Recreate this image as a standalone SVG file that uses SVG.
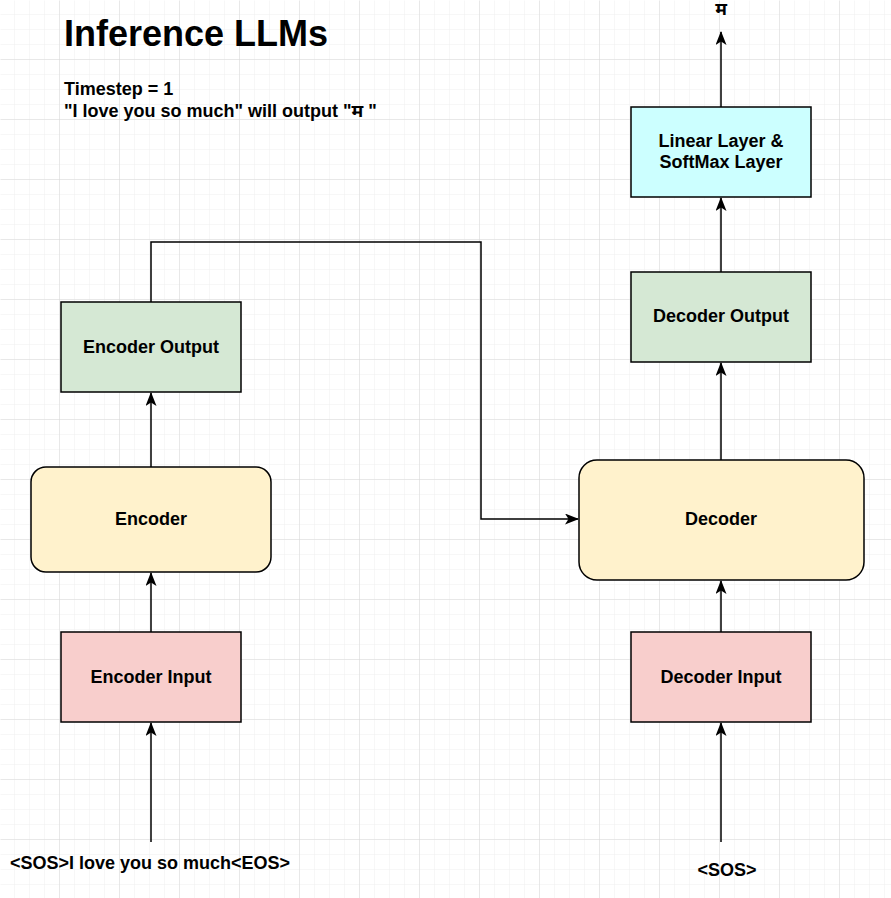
<svg xmlns="http://www.w3.org/2000/svg" width="891" height="898" viewBox="0 0 891 898">
<style>
.box{stroke:#000;stroke-width:1.5}
.lbl{font-family:"Liberation Sans",Arial,"Noto Sans Devanagari",sans-serif;font-weight:bold;font-size:18px;fill:#000;text-anchor:middle;dominant-baseline:central}
.edge{fill:none;stroke:#000;stroke-width:1.5;marker-end:url(#arr)}
</style>
<defs>
<pattern id="minor" width="15" height="15" patternUnits="userSpaceOnUse">
<path d="M15 0V15M0 15H15" fill="none" stroke="#efefef" stroke-width="1"/>
</pattern>
<pattern id="major" width="60" height="60" patternUnits="userSpaceOnUse">
<rect width="60" height="60" fill="url(#minor)"/>
<path d="M60 0V60M0 60H60" fill="none" stroke="#d9d9d9" stroke-width="1"/>
</pattern>
<marker id="arr" viewBox="0 0 14 11" refX="13" refY="5.5" markerWidth="14" markerHeight="11" markerUnits="userSpaceOnUse" orient="auto">
<path d="M0,0 L14,5.5 L0,11 L3.5,5.5 Z" fill="#000"/>
</marker>
</defs>
<rect width="891" height="898" fill="#fff"/>
<rect x="0.5" y="0.5" width="891" height="898" fill="url(#major)"/>

<g id="title">
<text x="64" y="46" style="font-family:'Liberation Sans',Arial,sans-serif;font-weight:bold;font-size:36px">Inference LLMs</text>
<text x="64" y="95" style="font-family:'Liberation Sans',Arial,sans-serif;font-weight:bold;font-size:18px">Timestep = 1</text>
<text x="64" y="117" style="font-family:'Liberation Sans',Arial,'Noto Sans Devanagari',sans-serif;font-weight:bold;font-size:18px">"I love you so much" will output "म "</text>
</g>

<g id="connectors">
<path class="edge" d="M151 842V723"/>
<path class="edge" d="M151 632V573"/>
<path class="edge" d="M151 467V393"/>
<path class="edge" d="M151 302V242H481V519H578"/>
<path class="edge" d="M721 842V723"/>
<path class="edge" d="M721 632V581"/>
<path class="edge" d="M721 460V363"/>
<path class="edge" d="M721 272V198"/>
<path class="edge" d="M721 107V32"/>
</g>

<g id="encoder-output">
<rect class="box" x="61" y="302" width="180" height="90" fill="#d5e8d4"/>
<text class="lbl" x="151" y="347">Encoder Output</text>
</g>
<g id="encoder">
<rect class="box" x="31" y="467" width="240" height="105" rx="15" fill="#fff2cc"/>
<text class="lbl" x="151" y="519">Encoder</text>
</g>
<g id="encoder-input">
<rect class="box" x="61" y="632" width="180" height="90" fill="#f8cecc"/>
<text class="lbl" x="151" y="677">Encoder Input</text>
</g>
<g id="decoder-input">
<rect class="box" x="631" y="632" width="180" height="90" fill="#f8cecc"/>
<text class="lbl" x="721" y="677">Decoder Input</text>
</g>
<g id="decoder">
<rect class="box" x="579" y="460" width="285" height="120" rx="18" fill="#fff2cc"/>
<text class="lbl" x="721" y="519">Decoder</text>
</g>
<g id="decoder-output">
<rect class="box" x="631" y="272" width="180" height="90" fill="#d5e8d4"/>
<text class="lbl" x="721" y="316">Decoder Output</text>
</g>
<g id="linear-softmax">
<rect class="box" x="631" y="107" width="180" height="90" fill="#ccffff"/>
<text class="lbl" x="721" y="141">Linear Layer &amp;</text>
<text class="lbl" x="721" y="162">SoftMax Layer</text>
</g>
<g id="output-token">
<text class="lbl" x="721" y="9">म</text>
</g>
<g id="encoder-text">
<text class="lbl" x="150" y="863">&lt;SOS&gt;I love you so much&lt;EOS&gt;</text>
</g>
<g id="decoder-text">
<text class="lbl" x="727" y="870">&lt;SOS&gt;</text>
</g>
</svg>
